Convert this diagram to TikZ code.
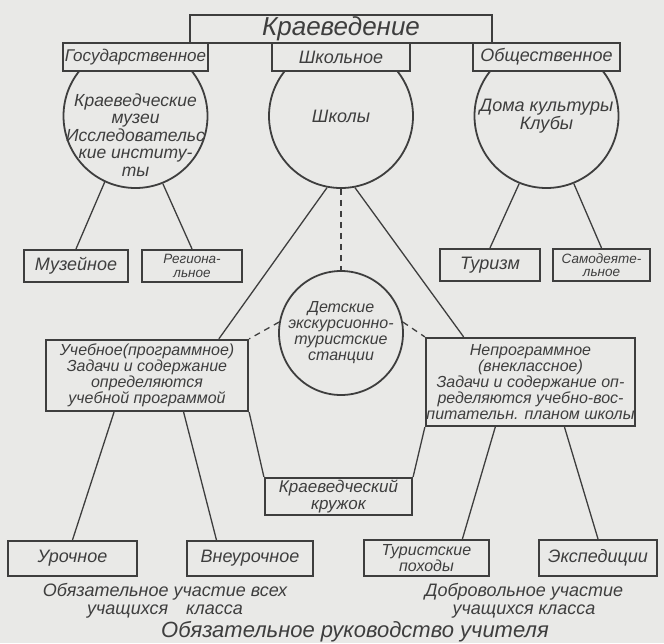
\documentclass[tikz,border=0pt]{standalone}
\usepackage{fontspec}
\setmainfont{Liberation Sans}
\definecolor{paper}{RGB}{233,233,231}
\definecolor{ink}{RGB}{62,62,62}

\begin{document}
\begin{tikzpicture}[x=1pt, y=-1pt, node distance=205.5pt,
                    every node/.style={text=ink, align=center, font=\itshape\fontsize{18}{17.5}\selectfont},
                    block/.style={rectangle, draw=ink, line width=2.2pt, fill=paper, inner sep=0.5pt},
                    small/.style={font=\itshape\fontsize{16}{16}\selectfont},
                    tiny/.style={font=\itshape\fontsize{13.5}{13.5}\selectfont},
                    ring/.style={circle, draw=ink, line width=1.8pt, minimum size=144pt, inner sep=0pt},
                    link/.style={draw=ink, line width=1.3pt},
                    dlink/.style={link, dash pattern=on 6pt off 5pt}]
  \fill[paper] (0,0) rectangle (664,643);
  \useasboundingbox (0,0) rectangle (664,643);

  \node[ring] (cgos) at (135.5,116) {};
  \node[ring, right of=cgos] (cshk) {Школы};
  \node[ring, right of=cshk] (cobsh) {Дома культуры\\Клубы};
  \node[font=\itshape\fontsize{17.5}{17.5}\selectfont] (tgos) at (135.5,135) {Краеведческие\\музеи\\Исследовательс\\кие институ-\\ты};

  \node[block, minimum width=302pt, minimum height=28pt, font=\itshape\fontsize{26}{26}\selectfont] (kraev) at (341,29) {Краеведение};
  \node[block, minimum width=145pt, minimum height=28pt, font=\itshape\fontsize{17}{17}\selectfont] (gos) at (135.5,57) {Государственное};
  \node[block, minimum width=138pt, minimum height=28pt, right of=gos] (shk) {Школьное};
  \node[block, minimum width=147pt, minimum height=28pt, right of=shk] (obsh) {Общественное};

  \node[block, minimum width=104pt, minimum height=32pt] (muz) at (76,266) {Музейное};
  \node[block, tiny, minimum width=100pt, minimum height=32pt] (reg) at (192,266) {Региона-\\льное};
  \node[block, minimum width=100pt, minimum height=32pt] (tur) at (490,265) {Туризм};
  \node[block, tiny, minimum width=97pt, minimum height=32pt] (sam) at (601.5,265) {Самодеяте-\\льное};

  \node[ring, small, minimum size=124pt] (dets) at (341,333) {Детские\\экскурсионно-\\туристские\\станции};
  \node[block, small, minimum width=202pt, minimum height=71pt] (ucheb) at (147,375.5) {Учебное(программное)\\Задачи и содержание\\определяются\\учебной программой};
  \node[block, small, minimum width=197pt, minimum height=88pt] (neprog) at (530.5,382) {Непрограммное\\(внеклассное)\\Задачи и содержание оп-\\ределяются учебно-вос-\\питательн. планом школы};
  \node[block, font=\itshape\fontsize{17}{16.5}\selectfont, minimum width=147pt, minimum height=37pt] (kruzh) at (338.5,496.5) {Краеведческий\\кружок};

  \node[block, minimum width=129pt, minimum height=35pt] (uroch) at (72.5,558.5) {Урочное};
  \node[block, minimum width=126pt, minimum height=35pt] (vneur) at (250,558.5) {Внеурочное};
  \node[block, small, minimum width=125pt, minimum height=36pt] (tpoh) at (426.5,558) {Туристские\\походы};
  \node[block, minimum width=118pt, minimum height=36pt] (eksp) at (598,558) {Экспедиции};

  \node[font=\itshape\fontsize{18}{18}\selectfont] (oblig) at (165,601) {Обязательное участие всех\\учащихся\quad класса};
  \node[font=\itshape\fontsize{18}{18}\selectfont] (dobr) at (524,601) {Добровольное участие\\учащихся класса};
  \node[font=\itshape\fontsize{22}{22}\selectfont] (ruk) at (355,632) {Обязательное руководство учителя};

  \draw[link] (cgos.-115) -- (muz.north);
  \draw[link] (cgos.-68) -- (reg.north);
  \draw[link] (cobsh.-112) -- (tur.north);
  \draw[link] (cobsh.-68) -- (sam.north);
  \draw[link] (cshk.-101) -- (ucheb.27);
  \draw[link] (cshk.-79) -- (neprog.146);
  \draw[dlink] (cshk.south) -- (dets.north);
  \draw[dlink] (dets.170) -- (ucheb.north east);
  \draw[dlink] (dets.10) -- (neprog.north west);
  \draw[link] (ucheb.-132) -- (uroch.north);
  \draw[link] (ucheb.-45) -- (vneur.151);
  \draw[link] (ucheb.south east) -- (kruzh.north west);
  \draw[link] (neprog.south west) -- (kruzh.north east);
  \draw[link] (neprog.-128) -- (tpoh.28);
  \draw[link] (neprog.-53) -- (eksp.north);
\end{tikzpicture}
\end{document}
